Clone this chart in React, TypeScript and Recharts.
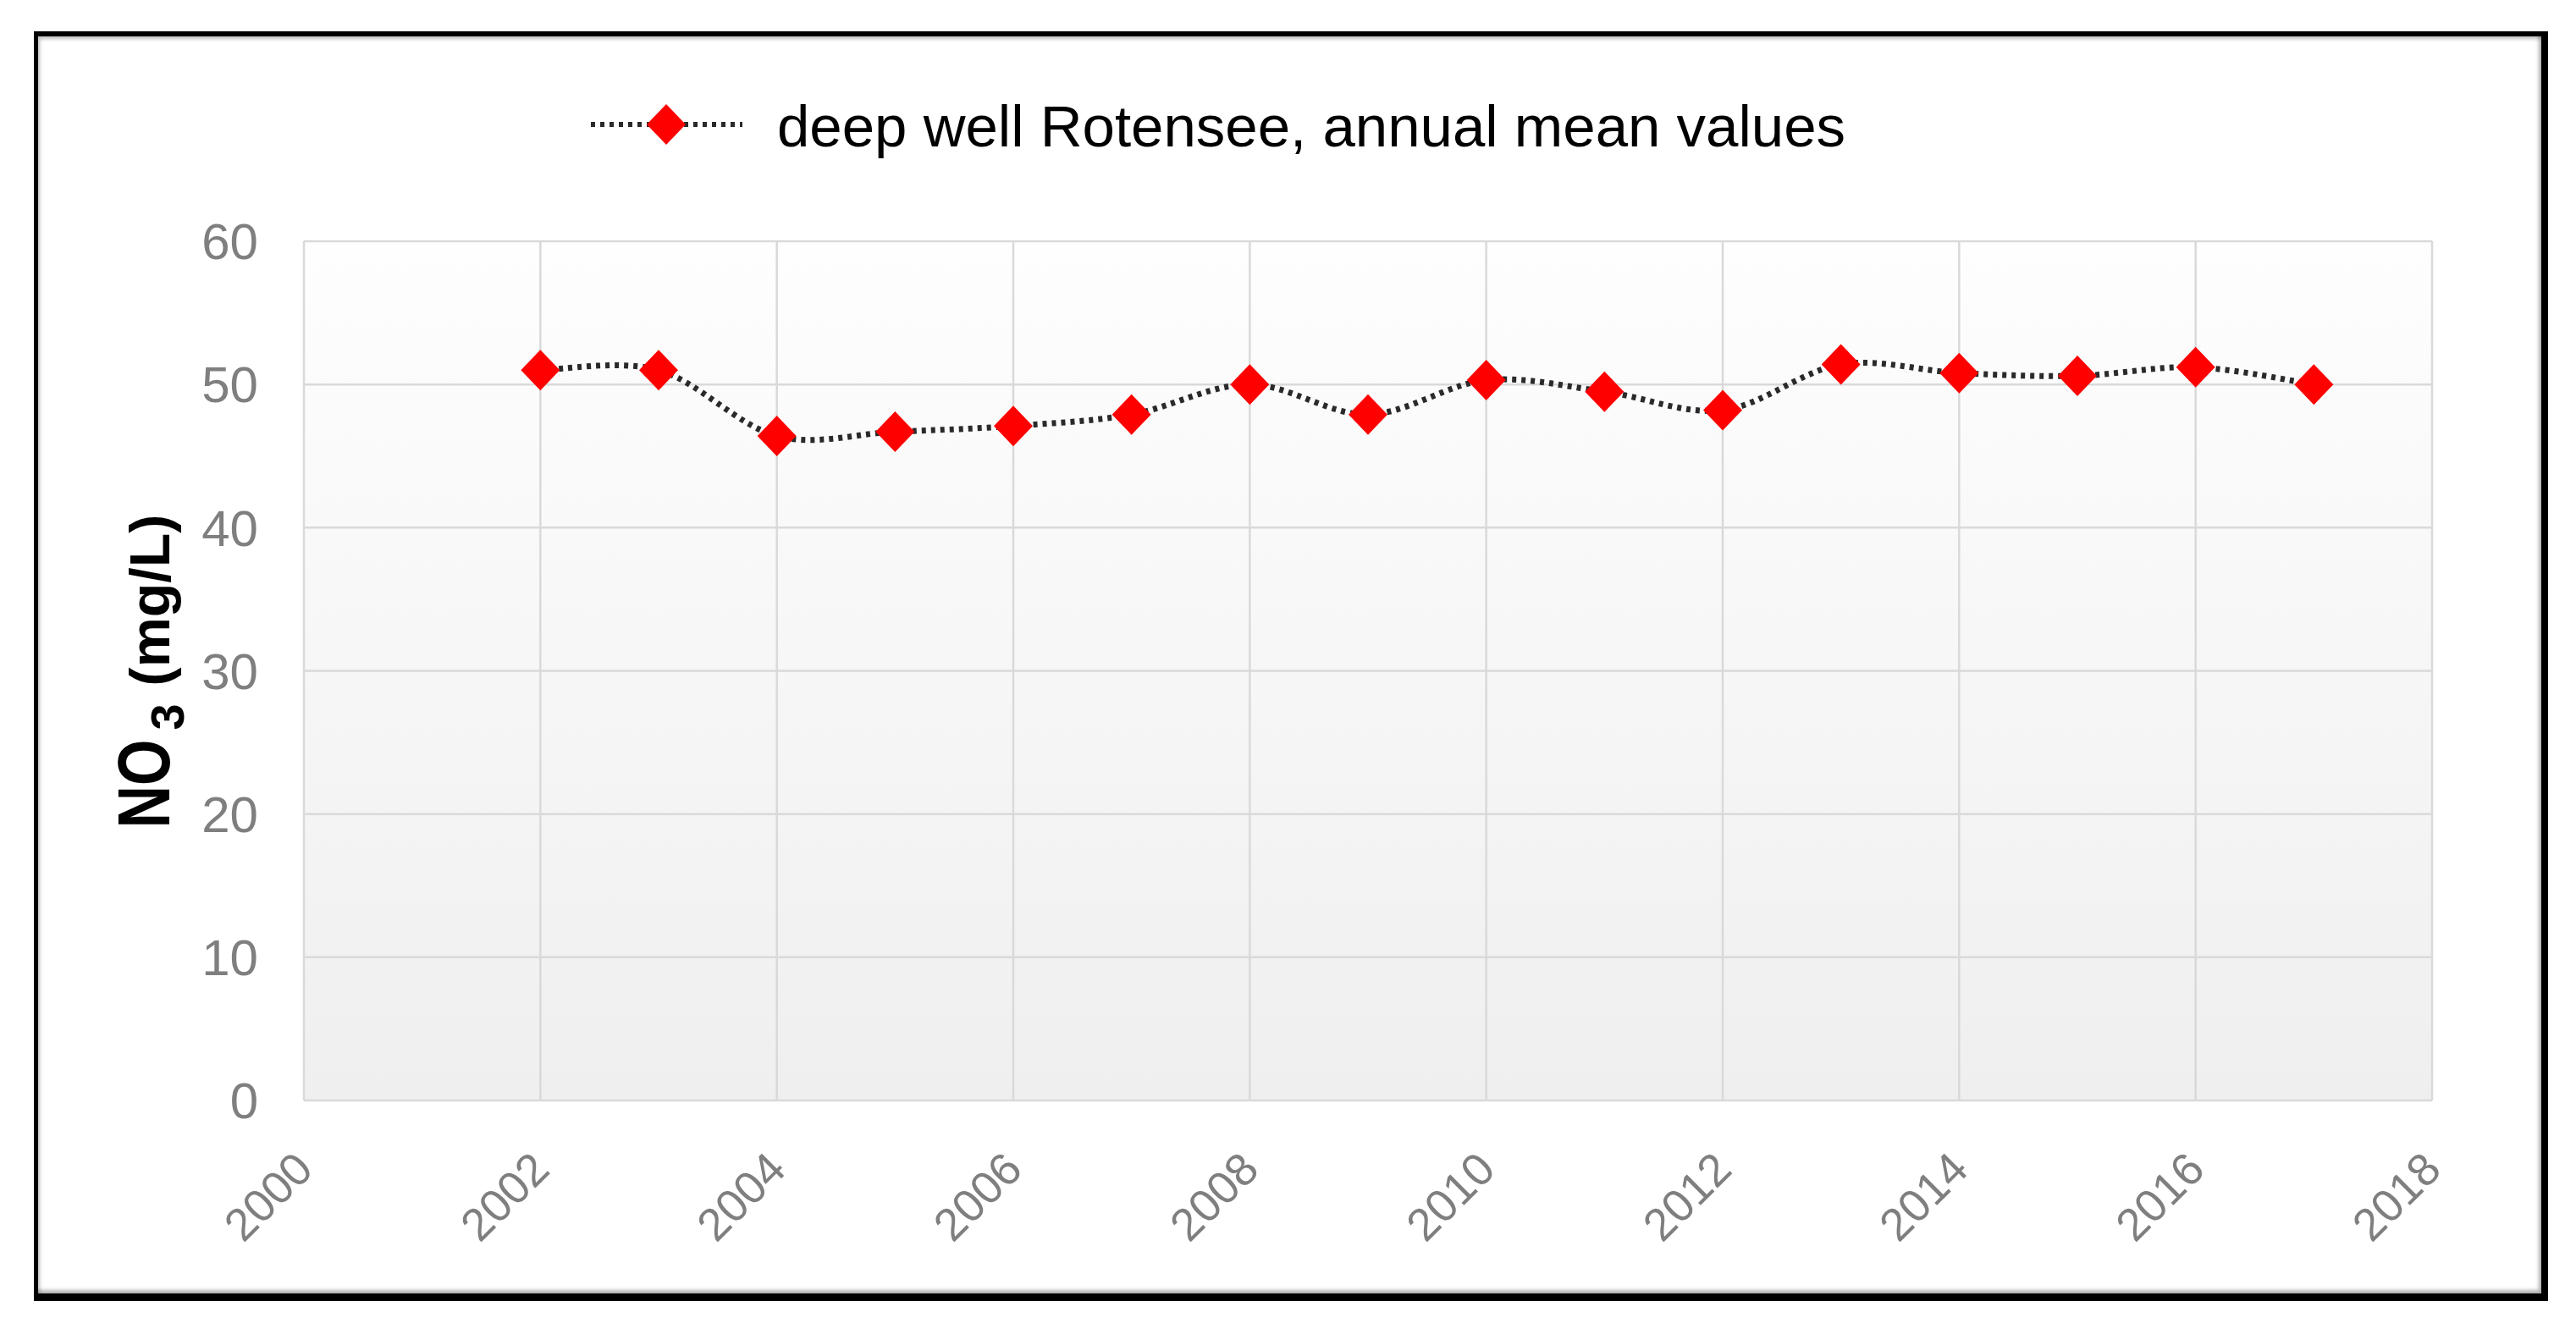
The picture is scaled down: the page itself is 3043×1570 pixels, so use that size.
import React from 'react';
import { LineChart, Line, XAxis, YAxis, CartesianGrid, Legend } from 'recharts';

const years = [2002, 2003, 2004, 2005, 2006, 2007, 2008, 2009, 2010, 2011, 2012, 2013, 2014, 2015, 2016, 2017];
const no3Values = [51.0, 51.0, 46.4, 46.7, 47.1, 47.9, 50.0, 47.9, 50.3, 49.5, 48.2, 51.4, 50.8, 50.6, 51.2, 50.0];
const xTicks = [2000, 2002, 2004, 2006, 2008, 2010, 2012, 2014, 2016, 2018];
const yTicks = [0, 10, 20, 30, 40, 50, 60];
const seriesName = 'deep well Rotensee, annual mean values';

const data = years.map((year, i) => ({ year, no3: no3Values[i] }));

const FONT = '"Liberation Sans", Arial, sans-serif';
const LINE_COLOR = '#2a2a2a';
const MARK_COLOR = '#ff0000';

// Excel-like smoothed line (uniform Catmull-Rom as cubic Bezier)
function excelSmooth(context: any) {
  let pts: number[][] = [];
  return {
    areaStart() {},
    areaEnd() {},
    lineStart() {
      pts = [];
    },
    point(x: number, y: number) {
      pts.push([+x, +y]);
    },
    lineEnd() {
      const n = pts.length;
      if (!n) return;
      context.moveTo(pts[0][0], pts[0][1]);
      for (let i = 0; i < n - 1; i++) {
        const p0 = pts[Math.max(i - 1, 0)];
        const p1 = pts[i];
        const p2 = pts[i + 1];
        const p3 = pts[Math.min(i + 2, n - 1)];
        const c1x = p1[0] + (p2[0] - p0[0]) / 6;
        const c1y = p1[1] + (p2[1] - p0[1]) / 6;
        const c2x = p2[0] - (p3[0] - p1[0]) / 6;
        const c2y = p2[1] - (p3[1] - p1[1]) / 6;
        context.bezierCurveTo(c1x, c1y, c2x, c2y, p2[0], p2[1]);
      }
    },
  };
}

const Diamond = (props: any) => {
  const { cx, cy } = props;
  if (cx == null || cy == null) return null;
  return (
    <polygon
      points={`${cx},${cy - 24} ${cx + 23},${cy} ${cx},${cy + 24} ${cx - 23},${cy}`}
      fill={MARK_COLOR}
    />
  );
};

const XTick = (props: any) => {
  const { x, y, payload } = props;
  return (
    <g transform={`translate(${x},${y})`}>
      <text
        transform="rotate(-45)"
        textAnchor="end"
        dy="0.35em"
        fontSize={54}
        fontFamily={FONT}
        fill="#7f7f7f"
      >
        {payload.value}
      </text>
    </g>
  );
};

const YLabel = (props: any) => {
  const vb = props.viewBox || { x: 0, y: 285, width: 359, height: 1015 };
  const cy = vb.y + vb.height / 2;
  return (
    <g
      transform={`translate(${vb.x + 200}, ${cy + 186}) rotate(-90)`}
      fontFamily={FONT}
      fontWeight="bold"
      fill="#000"
    >
      <text x={0} y={0} fontSize={87} textLength={105} lengthAdjust="spacingAndGlyphs">
        NO
      </text>
      <text x={116} y={17} fontSize={56}>
        3
      </text>
      <text x={168} y={0} fontSize={66} textLength={203} lengthAdjust="spacingAndGlyphs">
        (mg/L)
      </text>
    </g>
  );
};

const LegendContent = () => (
  <svg width={1600} height={100} style={{ display: 'block', overflow: 'visible' }}>
    <line x1={0} y1={47} x2={179} y2={47} stroke={LINE_COLOR} strokeWidth={6} strokeDasharray="5 6" />
    <polygon points="89,23 112,47 89,71 66,47" fill={MARK_COLOR} />
    <text x={220} y={73} fontSize={69} fontFamily={FONT} fill="#000">
      {seriesName}
    </text>
  </svg>
);

export default function App() {
  return (
    <div style={{ position: 'absolute', left: 0, top: 0, width: 3043, height: 1570, background: '#fff', fontFamily: FONT }}>
      <div
        style={{
          position: 'absolute',
          left: 40,
          top: 37,
          width: 2970,
          height: 1500,
          boxSizing: 'border-box',
          borderStyle: 'solid',
          borderColor: '#000',
          borderTopWidth: 6,
          borderLeftWidth: 5,
          borderRightWidth: 8,
          borderBottomWidth: 9,
          boxShadow: 'inset 2px 3px 4px rgba(0,0,0,0.25), inset -3px -4px 4px rgba(0,0,0,0.3)',
        }}
      />
      <div style={{ position: 'absolute', left: 0, top: 0 }}>
        <LineChart width={3043} height={1570} data={data} margin={{ top: 185, right: 170, left: 0, bottom: 0 }}>
          <defs>
            <linearGradient id="plotBg" x1="0" y1="0" x2="0" y2="1">
              <stop offset="0" stopColor="#fefefe" />
              <stop offset="1" stopColor="#efefef" />
            </linearGradient>
          </defs>
          <CartesianGrid stroke="#d9d9d9" strokeWidth={2.5} fill="url(#plotBg)" fillOpacity={1} />
          <XAxis
            dataKey="year"
            type="number"
            domain={[2000, 2018]}
            ticks={xTicks}
            interval={0}
            height={270}
            axisLine={false}
            tickLine={false}
            tickSize={0}
            tickMargin={71}
            tick={<XTick />}
          />
          <YAxis
            type="number"
            domain={[0, 60]}
            ticks={yTicks}
            interval={0}
            width={359}
            axisLine={false}
            tickLine={false}
            tickSize={0}
            tickMargin={54}
            tick={{ fill: '#7f7f7f', fontSize: 60, fontFamily: FONT }}
            label={<YLabel />}
          />
          <Legend
            verticalAlign="top"
            content={<LegendContent />}
            wrapperStyle={{ position: 'absolute', left: 698, top: 100, width: 1600, height: 100 }}
          />
          <Line
            name={seriesName}
            dataKey="no3"
            type={excelSmooth as any}
            stroke={LINE_COLOR}
            strokeWidth={7}
            strokeDasharray="5 6"
            dot={<Diamond />}
            activeDot={false}
            isAnimationActive={false}
          />
        </LineChart>
      </div>
    </div>
  );
}
